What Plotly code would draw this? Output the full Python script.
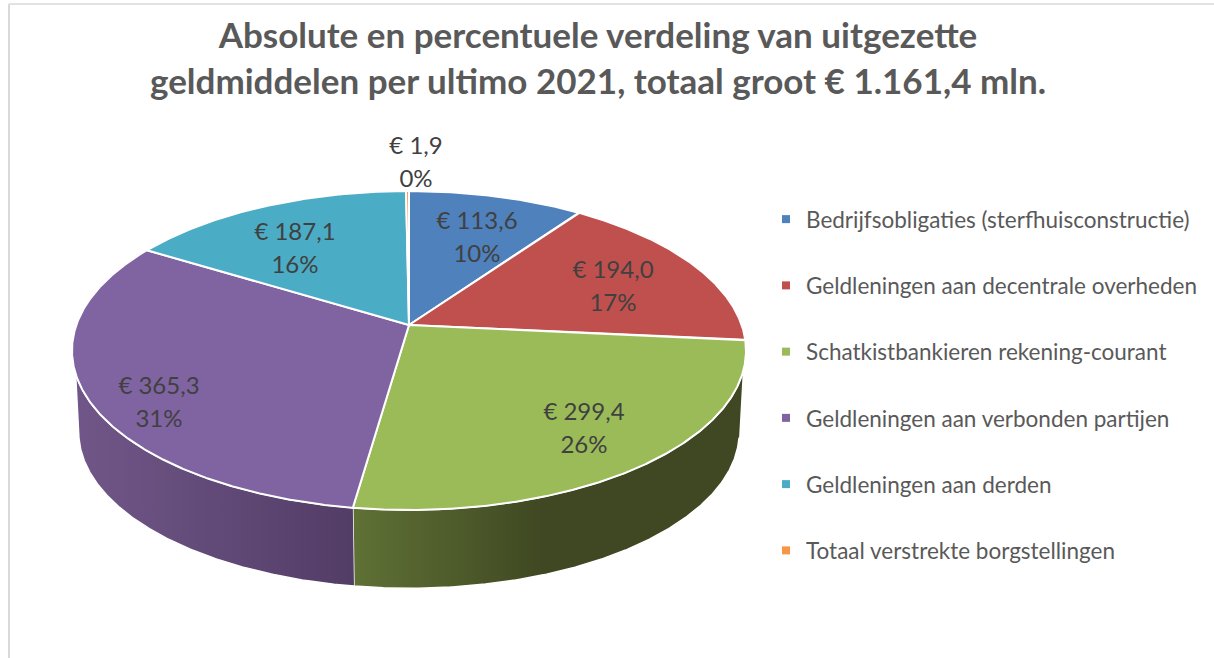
import numpy as np
import plotly.graph_objects as go

# ---- data -------------------------------------------------------------
categories = [
    "Bedrijfsobligaties (sterfhuisconstructie)",
    "Geldleningen aan decentrale overheden",
    "Schatkistbankieren rekening-courant",
    "Geldleningen aan verbonden partijen",
    "Geldleningen aan derden",
    "Totaal verstrekte borgstellingen",
]
values = [113.6, 194.0, 299.4, 365.3, 187.1, 1.9]
colors = ["#4f81bd", "#c0504d", "#9bbb59", "#8064a2", "#4bacc6", "#f79646"]
title_lines = [
    "Absolute en percentuele verdeling van uitgezette",
    "geldmiddelen per ultimo 2021, totaal groot € 1.161,4 mln.",
]

# ---- layout of the tilted disc (projective view of a circle) ------------
CX, APEX_Y, A, B, K = 409, 325, 332.7, 155.4, 0.16
LOWER_SCALE, LOWER_APEX_Y = 0.98, 407
WALL_TOP_Y, WALL_BOTTOM_Y = 373, 437
LABEL_XY = [(477, 239), (613, 288), (584, 430), (159, 404), (295, 250), (416, 164)]
WALLS = {
    2: ([[0, "#5f7135"], [0.48, "#3f4822"], [1, "#3f4822"]], 354, 746),
    3: ([[0, "#715789"], [1, "#523d66"]], 72, 354),
}
FONT = "Lato"


def rim(deg, scale=1.0, apex=APEX_Y):
    a = np.radians(deg)
    u, v = np.sin(a), np.cos(a)
    d = 1 + K * v
    return CX + scale * A * u / d, apex - scale * B * v / d


total = sum(values)
edges = np.concatenate([[0], np.cumsum(values)]) / total * 360

fig = go.Figure()

# side walls
for i, (scale_, start, stop) in WALLS.items():
    deg = np.linspace(edges[i], edges[i + 1], 300)
    ux, uy = rim(deg)
    lx, ly = rim(deg, LOWER_SCALE, LOWER_APEX_Y)
    mu, ml = uy >= WALL_TOP_Y, ly >= WALL_BOTTOM_Y
    fig.add_trace(go.Scatter(
        x=np.r_[ux[mu], lx[ml][::-1]], y=np.r_[uy[mu], ly[ml][::-1]],
        mode="lines", fill="toself", line=dict(color="white", width=1.5),
        fillgradient=dict(type="horizontal", colorscale=scale_, start=start, stop=stop),
        hoverinfo="skip", showlegend=False,
    ))

# top face
for i, c in enumerate(colors):
    deg = np.linspace(edges[i], edges[i + 1], max(3, int(values[i] * 2)))
    x, y = rim(deg)
    fig.add_trace(go.Scatter(
        x=np.r_[CX, x, CX], y=np.r_[APEX_Y, y, APEX_Y],
        mode="lines", fill="toself", fillcolor=c,
        line=dict(color="white", width=2),
        name=categories[i], text=categories[i], hoverinfo="text", showlegend=False,
    ))

# data labels (two lines, drawn from the values)
vtext = ["€ " + f"{v:.1f}".replace(".", ",") for v in values]
ptext = [f"{round(v / total * 100)}%" for v in values]
lx = [p[0] for p in LABEL_XY]
ly = [p[1] for p in LABEL_XY]
for txt, dy in ((vtext, -16.5), (ptext, 16.5)):
    fig.add_trace(go.Scatter(
        x=lx, y=[v + dy for v in ly], mode="text", text=txt, textposition="middle center",
        textfont=dict(family=FONT, size=24, color="#404040"),
        hoverinfo="skip", showlegend=False,
    ))

# legend entries
for i, c in enumerate(colors):
    fig.add_trace(go.Scatter(
        x=[None], y=[None], mode="markers", name=categories[i], legendgroup=str(i),
        marker=dict(symbol="square", size=8, color=c),
    ))

fig.update_layout(
    width=1214, height=658, autosize=False,
    margin=dict(l=0, r=0, t=0, b=0),
    paper_bgcolor="white", plot_bgcolor="white",
    title=dict(text="<b>" + "<br>".join(title_lines) + "</b>", x=598 / 1214, xanchor="center",
               y=1 - 48 / 658, yanchor="top",
               font=dict(family=FONT, size=35, color="#595959")),
    xaxis=dict(range=[0, 1214], visible=False, fixedrange=True),
    yaxis=dict(range=[658, 0], visible=False, fixedrange=True),
    legend=dict(x=766 / 1214, xanchor="left", y=1 - 198 / 658, yanchor="top",
                font=dict(family=FONT, size=22.5, color="#595959"),
                tracegroupgap=34, itemclick=False, itemdoubleclick=False,
                bgcolor="rgba(0,0,0,0)"),
    shapes=[
        dict(type="line", xref="x", yref="y", x0=9, x1=9, y0=4, y1=658, line=dict(color="#d9d9d9", width=2)),
        dict(type="line", xref="x", yref="y", x0=9, x1=1214, y0=4, y1=4, line=dict(color="#d9d9d9", width=1.5)),
    ],
)
fig.write_html("out.html", config={"displayModeBar": False},
               post_script="document.body.style.margin='0';document.documentElement.style.overflow='hidden';")
